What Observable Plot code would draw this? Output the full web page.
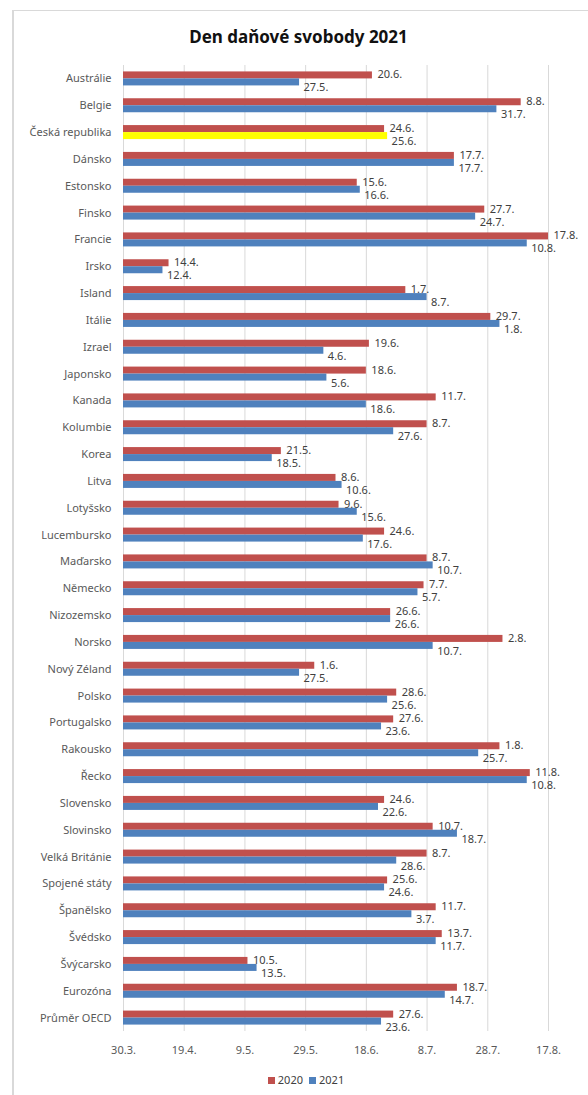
<!DOCTYPE html>
<html><head><meta charset="utf-8">
<script src="https://cdn.jsdelivr.net/npm/d3@7"></script>
<script src="https://cdn.jsdelivr.net/npm/@observablehq/plot@0.6"></script>
<style>
body{margin:0;background:#fff;font-family:"Noto Sans",sans-serif;}
#wrap{position:relative;width:588px;height:1095px;overflow:hidden;}
#border{position:absolute;left:12px;top:10px;width:700px;height:1200px;border-top:1px solid #d9d9d9;border-left:2px solid #d9d9d9;}
#title{position:absolute;top:25px;left:0;width:597px;text-align:center;font-weight:bold;font-size:17px;line-height:24px;color:#111;}
#chart{position:absolute;top:55px;left:0;}
#legend{position:absolute;top:1072px;left:0;width:606px;text-align:center;font-size:11px;line-height:16px;color:#404040;}
#legend span.sw{display:inline-block;width:7px;height:7px;margin:0 3px 0 6px;vertical-align:middle;position:relative;top:-1px;}
</style>
</head><body>
<div id="wrap">
  <div id="border"></div>
  <div id="title">Den daňové svobody 2021</div>
  <div id="chart"></div>
  <div id="legend"></div>
</div>
<script>
const countries = ["Austrálie","Belgie","Česká republika","Dánsko","Estonsko","Finsko","Francie","Irsko","Island","Itálie","Izrael","Japonsko","Kanada","Kolumbie","Korea","Litva","Lotyšsko","Lucembursko","Maďarsko","Německo","Nizozemsko","Norsko","Nový Zéland","Polsko","Portugalsko","Rakousko","Řecko","Slovensko","Slovinsko","Velká Británie","Spojené státy","Španělsko","Švédsko","Švýcarsko","Eurozóna","Průměr OECD"];
const values2020 = ["20.6.","8.8.","24.6.","17.7.","15.6.","27.7.","17.8.","14.4.","1.7.","29.7.","19.6.","18.6.","11.7.","8.7.","21.5.","8.6.","9.6.","24.6.","8.7.","7.7.","26.6.","2.8.","1.6.","28.6.","27.6.","1.8.","11.8.","24.6.","10.7.","8.7.","25.6.","11.7.","13.7.","10.5.","18.7.","27.6."];
const values2021 = ["27.5.","31.7.","25.6.","17.7.","16.6.","24.7.","10.8.","12.4.","8.7.","1.8.","4.6.","5.6.","18.6.","27.6.","18.5.","10.6.","15.6.","17.6.","10.7.","5.7.","26.6.","10.7.","27.5.","25.6.","23.6.","25.7.","10.8.","22.6.","18.7.","28.6.","24.6.","3.7.","11.7.","13.5.","14.7.","23.6."];
const tickLabels = ["30.3.","19.4.","9.5.","29.5.","18.6.","8.7.","28.7.","17.8."];
const seriesNames = ["2020","2021"];
const highlight = "Česká republika";

const RED = "#C0504D", BLUE = "#4F81BD", YELLOW = "#FFFF00";
function parseDay(s){ const [d,m] = s.split(".").map(Number); return new Date(Date.UTC(2021, m-1, d)); }
const ticks = tickLabels.map(parseDay);
const start = ticks[0];
const d2020 = countries.map((c,i)=>({country:c, label:values2020[i], date:parseDay(values2020[i])}));
const d2021 = countries.map((c,i)=>({country:c, label:values2021[i], date:parseDay(values2021[i])}));

const H = 1006, mT = 10, mB = 30;
const bw = (H - mT - mB) / countries.length;
const half = bw/2, barH = 7;

const chart = Plot.plot({
  width: 588, height: H,
  marginLeft: 123, marginRight: 40, marginTop: mT, marginBottom: mB,
  style: {fontFamily: "Noto Sans", fontSize: "11px", color: "#595959", background: "transparent"},
  x: {type: "utc", domain: [ticks[0], ticks[ticks.length-1]], ticks: ticks,
      tickFormat: d => tickLabels[ticks.findIndex(t => +t === +d)], label: null, tickSize: 0, tickPadding: 15},
  y: {domain: countries, padding: 0, round: false, label: null, tickSize: 0, tickPadding: 12},
  marks: [
    Plot.ruleX(ticks, {stroke: "#d9d9d9", strokeWidth: 1}),
    Plot.barX(d2020, {x1: () => start, x2: "date", y: "country", fill: RED, insetTop: half - barH, insetBottom: half}),
    Plot.barX(d2021.filter(d => d.country !== highlight), {x1: () => start, x2: "date", y: "country", fill: BLUE, insetTop: half, insetBottom: half - barH}),
    Plot.barX(d2021.filter(d => d.country === highlight), {x1: () => start, x2: "date", y: "country", fill: YELLOW, insetTop: half, insetBottom: half - barH}),
    Plot.text(d2020, {x: "date", y: "country", text: "label", textAnchor: "start", dx: 5, dy: -4, fill: "#404040", fontSize: 11}),
    Plot.text(d2021, {x: "date", y: "country", text: "label", textAnchor: "start", dx: 4, dy: 9, fill: "#404040", fontSize: 11})
  ]
});
document.getElementById("chart").appendChild(chart);

const legend = document.getElementById("legend");
[RED, BLUE].forEach((c, i) => {
  const sw = document.createElement("span"); sw.className = "sw"; sw.style.background = c;
  legend.appendChild(sw);
  legend.appendChild(document.createTextNode(seriesNames[i]));
});
</script>
</body></html>
